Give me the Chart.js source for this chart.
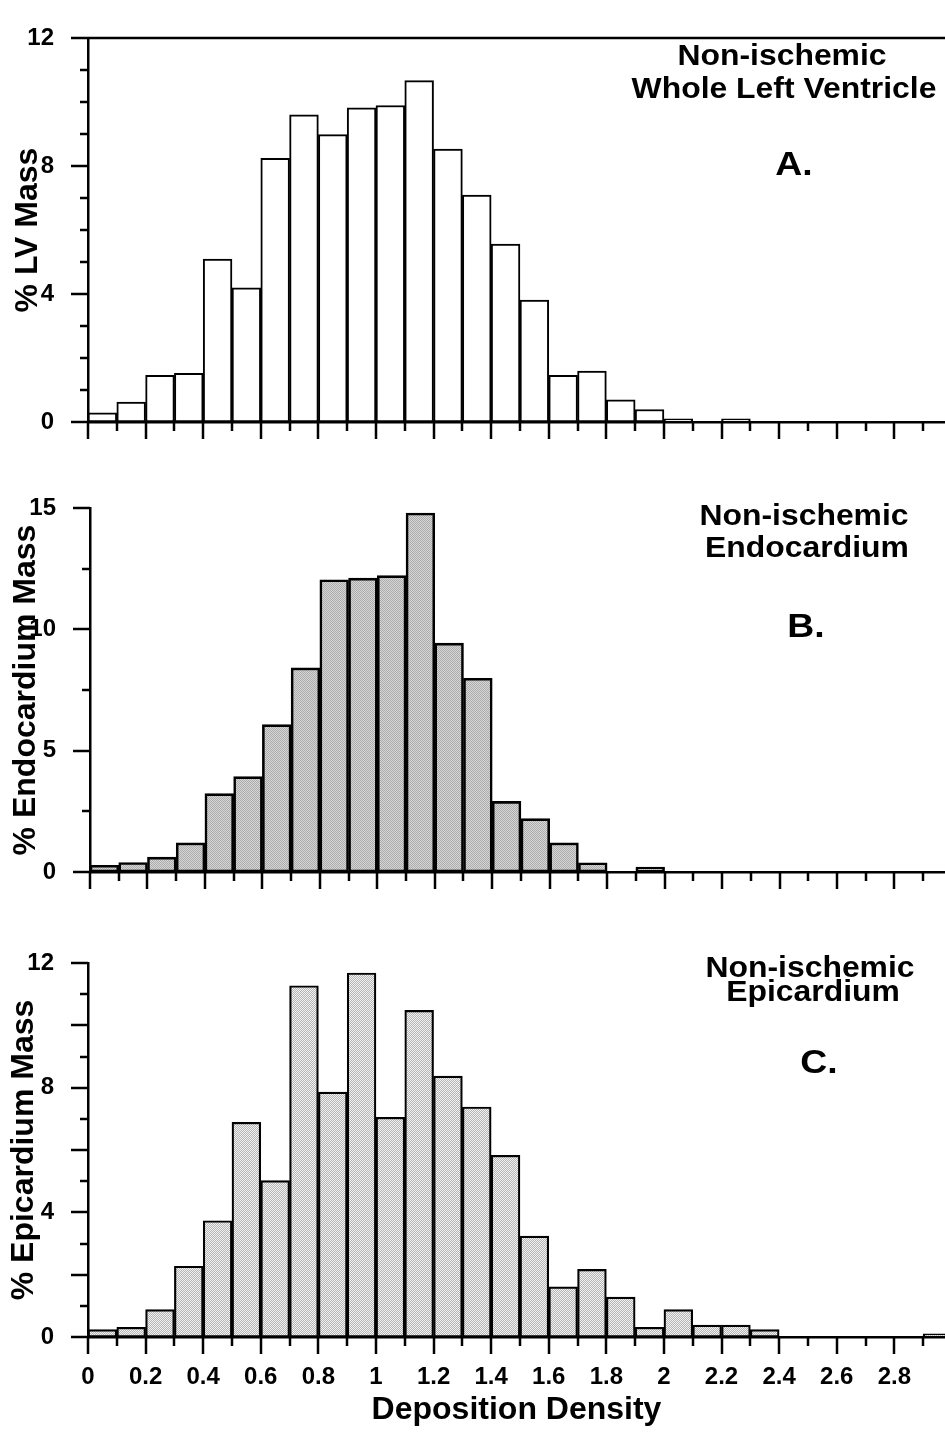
<!DOCTYPE html>
<html>
<head>
<meta charset="utf-8">
<script src="https://cdn.jsdelivr.net/npm/chart.js@4.4.1/dist/chart.umd.min.js"></script>
<style>
  html, body { margin: 0; padding: 0; background: #fff; }
  body { width: 945px; height: 1435px; position: relative; overflow: hidden; }
  canvas { position: absolute; left: 0; }
</style>
</head>
<body>
<canvas id="chartA" width="945" height="460" style="top:0px"></canvas>
<canvas id="chartB" width="945" height="440" style="top:470px"></canvas>
<canvas id="chartC" width="945" height="510" style="top:925px"></canvas>
<script>
// histogram bins (left edge of each 0.1 wide bin)
const binStart = [0, 0.1, 0.2, 0.3, 0.4, 0.5, 0.6, 0.7, 0.8, 0.9,
                  1.0, 1.1, 1.2, 1.3, 1.4, 1.5, 1.6, 1.7, 1.8, 1.9,
                  2.0, 2.1, 2.2, 2.3, 2.4, 2.5, 2.6, 2.7, 2.8, 2.9];

// % mass per bin
const lvMass = [0.29, 0.62, 1.46, 1.52, 5.09, 4.19, 8.24, 9.6, 8.98, 9.82,
                9.89, 10.67, 8.53, 7.09, 5.56, 3.81, 1.46, 1.59, 0.69, 0.39,
                0.1, 0, 0.1, 0, 0, 0, 0, 0, 0, 0];
const endoMass = [0.28, 0.39, 0.61, 1.2, 3.23, 3.93, 6.07, 8.41, 12.04, 12.11,
                  12.21, 14.79, 9.43, 7.98, 2.91, 2.2, 1.2, 0.38, 0, 0.2,
                  0, 0, 0, 0, 0, 0, 0, 0, 0, 0];
const epiMass = [0.24, 0.31, 0.88, 2.27, 3.73, 6.89, 5.02, 11.27, 7.86, 11.68,
                 7.05, 10.48, 8.37, 7.38, 5.83, 3.24, 1.61, 2.17, 1.28, 0.31,
                 0.88, 0.38, 0.38, 0.24, 0, 0, 0, 0, 0, 0.1];

// x axis ticks
const xTickValues = [0, 0.1, 0.2, 0.3, 0.4, 0.5, 0.6, 0.7, 0.8, 0.9,
                     1.0, 1.1, 1.2, 1.3, 1.4, 1.5, 1.6, 1.7, 1.8, 1.9,
                     2.0, 2.1, 2.2, 2.3, 2.4, 2.5, 2.6, 2.7, 2.8, 2.9];
const xLabelValues = [0, 0.2, 0.4, 0.6, 0.8, 1.0, 1.2, 1.4, 1.6, 1.8, 2.0, 2.2, 2.4, 2.6, 2.8];
const xTickLabels = ["0", "0.2", "0.4", "0.6", "0.8", "1", "1.2", "1.4", "1.6", "1.8", "2", "2.2", "2.4", "2.6", "2.8"];

// y axis labels / long ticks
const yLabelsA = [0, 4, 8, 12];
const yLabelsB = [0, 5, 10, 15];
const yLabelsC = [0, 4, 8, 12];
const yLongC = [0, 2, 4, 6, 8, 10, 12];

const FONT = '"Liberation Sans", Arial, Helvetica, sans-serif';
Chart.defaults.font.family = FONT;
Chart.defaults.font.weight = "bold";
Chart.defaults.color = "#000";

const near = (list, v) => list.findIndex(a => Math.abs(a - v) < 1e-6);

// dithered grey fills like the printed figure
function dither(c1, c2) {
    const p = document.createElement("canvas");
    p.width = 2; p.height = 2;
    const g = p.getContext("2d");
    g.fillStyle = c1; g.fillRect(0, 0, 2, 2);
    g.fillStyle = c2; g.fillRect(0, 0, 1, 1); g.fillRect(1, 1, 1, 1);
    return g.createPattern(p, "repeat");
}

function makeChart(id, opts) {
    const ctx = document.getElementById(id).getContext("2d");

    const marks = {
        id: "marks",
        afterDraw(chart) {
            const c = chart.ctx, x = chart.scales.x, y = chart.scales.y, a = chart.chartArea;
            c.save();
            c.strokeStyle = "#000";
            c.lineWidth = 2.5;
            c.beginPath();
            y.ticks.forEach(t => {
                const py = Math.round(y.getPixelForValue(t.value));
                const len = near(opts.yLong, t.value) >= 0 ? 17 : 8;
                c.moveTo(a.left - len, py); c.lineTo(a.left, py);
            });
            x.ticks.forEach(t => {
                const px = Math.round(x.getPixelForValue(t.value));
                const len = Math.round(t.value * 10) % 2 === 0 ? 17 : 9;
                c.moveTo(px, a.bottom); c.lineTo(px, a.bottom + len);
            });
            if (opts.topLine) {
                c.moveTo(a.left - 17, a.top); c.lineTo(a.right, a.top);
            }
            c.stroke();
            // panel captions (the printed face is a little wider than Liberation Sans)
            c.fillStyle = "#000";
            c.textAlign = "center";
            c.textBaseline = "alphabetic";
            opts.notes.forEach(n => {
                c.save();
                c.translate(n.x, n.y);
                c.scale(1.1, 1);
                c.font = "bold " + n.size + "px " + FONT;
                c.fillText(n.text, 0, 0);
                c.restore();
            });
            c.restore();
        }
    };

    return new Chart(ctx, {
        type: "bar",
        data: {
            datasets: [{
                data: binStart.map((b, i) => ({ x: b + 0.05, y: opts.values[i] })),
                backgroundColor: opts.fill,
                borderColor: "#000",
                borderWidth: opts.barBorder,
                borderSkipped: false,
                barPercentage: 1,
                categoryPercentage: 1,
            }],
        },
        options: {
            responsive: false,
            animation: false,
            events: [],
            layout: { padding: { top: opts.padTop, right: 0, bottom: 0, left: 0 } },
            plugins: { legend: { display: false }, tooltip: { enabled: false } },
            scales: {
                x: {
                    type: "linear",
                    offset: false,
                    min: 0,
                    max: opts.xMax,
                    grid: { display: false, offset: false },
                    border: { display: true, color: "#000", width: 2.5 },
                    afterBuildTicks: s => { s.ticks = xTickValues.map(v => ({ value: v })); },
                    afterFit: s => { s.height = opts.xHeight; },
                    ticks: {
                        display: opts.xLabels,
                        autoSkip: false,
                        maxRotation: 0,
                        padding: 18,
                        font: { size: 24, weight: "bold", lineHeight: 1.2 },
                        callback: v => {
                            const k = near(xLabelValues, v);
                            return k >= 0 ? xTickLabels[k] : "";
                        },
                    },
                    title: {
                        display: opts.xLabels,
                        text: "Deposition Density",
                        font: { size: 32, weight: "bold", lineHeight: 1.2 },
                        padding: { top: 0, bottom: 6 },
                    },
                },
                y: {
                    min: 0,
                    max: opts.yMax,
                    grid: { display: false },
                    border: { display: true, color: "#000", width: 2.5 },
                    afterFit: s => { s.width = opts.yWidth; },
                    ticks: {
                        stepSize: opts.yStep,
                        padding: 26,
                        font: { size: 24, weight: "bold", lineHeight: 1 },
                        callback: v => (near(opts.yLabels, v) >= 0 ? String(v) : ""),
                    },
                    title: {
                        display: true,
                        text: opts.yTitle,
                        font: { size: 32, weight: "bold", lineHeight: 1.2 },
                        padding: { top: opts.titlePad, bottom: 0 },
                    },
                },
            },
        },
        plugins: [marks],
    });
}

makeChart("chartA", {
    values: lvMass, fill: "#ffffff", barBorder: 2,
    yMax: 12, yStep: 1, yLabels: yLabelsA, yLong: yLabelsA,
    yTitle: "% LV Mass", yWidth: 88, titlePad: 9,
    padTop: 12, xHeight: 29, xLabels: false, xMax: 2.976, topLine: true,
    notes: [
        { text: "Non-ischemic", x: 782, y: 65, size: 29 },
        { text: "Whole Left Ventricle", x: 784, y: 98, size: 29 },
        { text: "A.", x: 794, y: 175, size: 34 },
    ],
});

makeChart("chartB", {
    values: endoMass, fill: dither("#d6d6d6", "#acacac"), barBorder: 2.6,
    yMax: 15, yStep: 2.5, yLabels: yLabelsB, yLong: yLabelsB,
    yTitle: "% Endocardium Mass", yWidth: 90, titlePad: 7,
    padTop: 19, xHeight: 26, xLabels: false, xMax: 2.976, topLine: false,
    notes: [
        { text: "Non-ischemic", x: 804, y: 55, size: 29 },
        { text: "Endocardium", x: 807, y: 87, size: 29 },
        { text: "B.", x: 806, y: 167, size: 34 },
    ],
});

makeChart("chartC", {
    values: epiMass, fill: dither("#f2f2f2", "#b4b4b4"), barBorder: 2.2,
    yMax: 12, yStep: 1, yLabels: yLabelsC, yLong: yLongC,
    yTitle: "% Epicardium Mass", yWidth: 88, titlePad: 5,
    padTop: 18, xHeight: 98, xLabels: true, xMax: 2.976, topLine: false,
    notes: [
        { text: "Non-ischemic", x: 810, y: 52, size: 29 },
        { text: "Epicardium", x: 813, y: 76, size: 29 },
        { text: "C.", x: 819, y: 148, size: 34 },
    ],
});
</script>
</body>
</html>
